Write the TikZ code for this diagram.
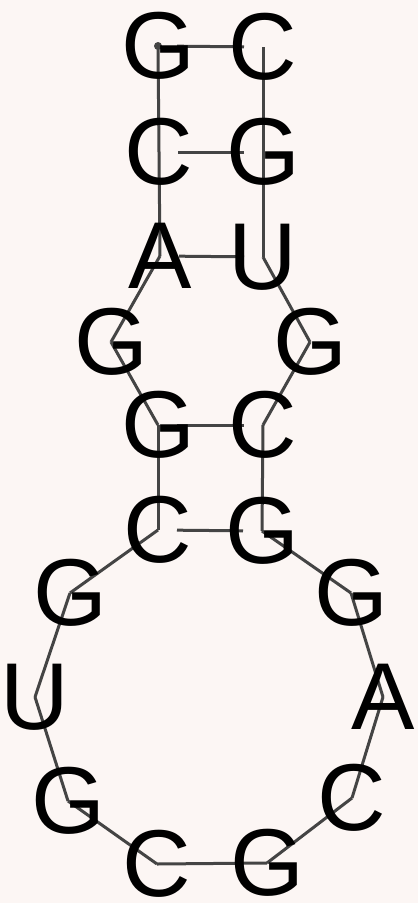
\documentclass[tikz,border=0pt]{standalone}
\usepackage{fontspec}
\setmainfont{Liberation Sans}
\definecolor{paperpink}{RGB}{252,246,244}
\definecolor{strandgray}{RGB}{68,68,68}
\pgfdeclarelayer{back}
\pgfsetlayers{back,main}

\begin{document}
\begin{tikzpicture}[x=1pt,y=-1pt,
  base/.style={inner sep=0pt,font=\fontsize{95}{95}\selectfont},
  strand/.style={strandgray,line width=3pt,line join=round},
  bond/.style={strandgray,line width=3pt,shorten <=19pt,shorten >=19pt}]
  \useasboundingbox (0,0) rectangle (418,903);
  \foreach \i/\b/\x/\y in {1/G/158/46,2/C/159/152,3/A/160/256,4/G/111/342,5/G/158/425,
    6/C/158/530,7/G/70/593,8/U/35/697,9/G/68/801,10/C/157/864,11/G/267/863,
    12/C/352/798,13/A/383/697,14/G/351/593,15/G/262/531,16/C/263/425,
    17/G/310/342,18/U/263/257,19/G/263/152,20/C/263/47}{
    \node[base] (b\i) at (\x,\y) {\b};
  }
  \begin{pgfonlayer}{back}
    \fill[paperpink] (0,0) rectangle (418,903);
    % backbone
    \foreach \i [evaluate=\i as \j using int(\i+1)] in {1,...,19}
      \draw[strand] (b\i.center) -- (b\j.center);
    % pairs
    \foreach \p/\q in {1/20,2/19,3/18,5/16,6/15}
      \draw[bond] (b\p.center) -- (b\q.center);
    \fill[strandgray] (b1.center) circle (4pt);
  \end{pgfonlayer}
\end{tikzpicture}
\end{document}
